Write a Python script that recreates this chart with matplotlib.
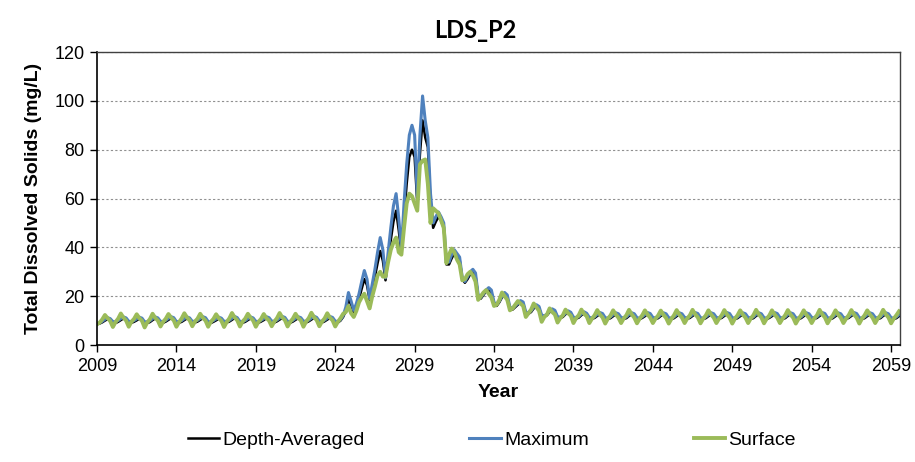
import numpy as np
import matplotlib
matplotlib.use('Agg')
import matplotlib.pyplot as plt
from matplotlib.lines import Line2D

plt.rcParams['font.family'] = ['Liberation Sans', 'DejaVu Sans']

# values, 6 samples per year (every 2 months) from Jan 2009
depth_averaged = [
    8.5, 8.8, 9.3, 10.0, 10.6, 10.3,    # 2009
    9.2, 9.0, 9.5, 10.2, 10.9, 10.5,    # 2010
    9.3, 9.1, 9.5, 10.1, 10.8, 10.4,    # 2011
    9.1, 9.0, 9.4, 10.2, 10.9, 10.5,    # 2012
    9.3, 9.1, 9.6, 10.3, 11.0, 10.6,    # 2013
    9.2, 9.1, 9.5, 10.2, 10.9, 10.5,    # 2014
    9.3, 9.2, 9.6, 10.3, 11.0, 10.6,    # 2015
    9.2, 9.0, 9.5, 10.1, 10.8, 10.4,    # 2016
    9.3, 9.2, 9.6, 10.3, 11.1, 10.6,    # 2017
    9.2, 9.1, 9.5, 10.2, 10.9, 10.5,    # 2018
    9.3, 9.1, 9.6, 10.2, 11.0, 10.6,    # 2019
    9.4, 9.2, 9.7, 10.4, 11.1, 10.7,    # 2020
    9.3, 9.1, 9.6, 10.3, 11.0, 10.6,    # 2021
    9.4, 9.2, 9.7, 10.4, 11.2, 10.7,    # 2022
    9.4, 9.2, 9.7, 10.4, 11.1, 10.7,    # 2023
    9.4, 9.2, 10.0, 11.5, 14.0, 19.0,   # 2024
    16.5, 13.5, 15.5, 19.0, 23.0, 27.0,  # 2025
    24.5, 18.5, 22.5, 28.0, 33.5, 38.5,  # 2026
    34.5, 26.5, 35.0, 43.0, 50.5, 55.0,  # 2027
    47.0, 37.5, 52.0, 66.0, 77.0, 80.0,  # 2028
    77.0, 58.0, 78.0, 92.0, 85.0, 81.0,  # 2029
    58.0, 48.0, 50.5, 52.5, 51.0, 48.0,  # 2030
    33.0, 33.0, 35.5, 37.5, 36.5, 35.0,  # 2031
    27.0, 25.5, 27.0, 29.0, 30.0, 28.5,  # 2032
    20.0, 19.0, 20.5, 22.0, 22.5, 21.5,  # 2033
    17.0, 16.0, 17.5, 19.5, 20.5, 19.5,  # 2034
    15.0, 14.5, 15.5, 16.5, 17.5, 17.0,  # 2035
    13.0, 12.8, 13.5, 15.0, 15.8, 15.2,  # 2036
    11.8, 11.6, 12.2, 13.5, 14.2, 13.6,  # 2037
    11.2, 11.0, 11.5, 12.6, 13.4, 12.9,  # 2038
    11.0, 10.8, 11.2, 12.2, 13.0, 12.5,  # 2039
    10.9, 10.7, 11.1, 11.9, 12.7, 12.3,  # 2040
    10.8, 10.6, 11.0, 11.8, 12.6, 12.2,  # 2041
    10.9, 10.7, 11.0, 11.9, 12.6, 12.2,  # 2042
    10.8, 10.6, 11.1, 11.8, 12.7, 12.3,  # 2043
    10.9, 10.7, 11.0, 11.9, 12.6, 12.2,  # 2044
    10.8, 10.6, 11.0, 11.8, 12.6, 12.2,  # 2045
    10.9, 10.7, 11.1, 11.9, 12.7, 12.3,  # 2046
    10.8, 10.6, 11.0, 11.8, 12.6, 12.2,  # 2047
    10.9, 10.7, 11.1, 11.9, 12.7, 12.3,  # 2048
    10.8, 10.6, 11.0, 11.8, 12.6, 12.2,  # 2049
    10.9, 10.7, 11.0, 11.9, 12.6, 12.2,  # 2050
    10.8, 10.6, 11.1, 11.8, 12.7, 12.3,  # 2051
    10.9, 10.7, 11.0, 11.9, 12.6, 12.2,  # 2052
    10.8, 10.6, 11.0, 11.8, 12.6, 12.2,  # 2053
    10.9, 10.7, 11.1, 11.9, 12.7, 12.3,  # 2054
    10.8, 10.6, 11.0, 11.8, 12.6, 12.2,  # 2055
    10.9, 10.7, 11.1, 11.9, 12.7, 12.3,  # 2056
    10.8, 10.6, 11.0, 11.8, 12.6, 12.2,  # 2057
    10.9, 10.7, 11.0, 11.9, 12.6, 12.2,  # 2058
    10.8, 10.6, 11.0, 11.8,              # 2059
]

maximum = [
    8.6, 9.1, 9.7, 10.5, 11.2, 10.8,    # 2009
    9.6, 9.5, 10.0, 10.8, 11.5, 11.1,   # 2010
    9.7, 9.6, 10.0, 10.7, 11.4, 11.0,   # 2011
    9.5, 9.5, 9.9, 10.8, 11.5, 11.1,    # 2012
    9.7, 9.6, 10.1, 10.9, 11.6, 11.2,   # 2013
    9.6, 9.6, 10.0, 10.8, 11.5, 11.1,   # 2014
    9.7, 9.7, 10.1, 10.9, 11.6, 11.2,   # 2015
    9.6, 9.5, 10.0, 10.7, 11.4, 11.0,   # 2016
    9.7, 9.7, 10.1, 10.9, 11.7, 11.2,   # 2017
    9.6, 9.6, 10.0, 10.8, 11.5, 11.1,   # 2018
    9.7, 9.6, 10.1, 10.8, 11.6, 11.2,   # 2019
    9.8, 9.7, 10.2, 11.0, 11.7, 11.3,   # 2020
    9.7, 9.6, 10.1, 10.9, 11.6, 11.2,   # 2021
    9.8, 9.7, 10.2, 11.0, 11.8, 11.3,   # 2022
    9.8, 9.7, 10.2, 11.0, 11.7, 11.3,   # 2023
    9.8, 9.6, 10.4, 12.0, 15.5, 21.5,   # 2024
    18.0, 14.2, 17.0, 21.0, 26.0, 30.5,  # 2025
    27.0, 19.0, 25.0, 31.0, 38.0, 44.0,  # 2026
    39.0, 27.5, 38.0, 48.0, 57.0, 62.0,  # 2027
    52.0, 39.0, 58.0, 74.0, 86.0, 90.0,  # 2028
    86.0, 61.0, 86.0, 102.0, 92.0, 85.0,  # 2029
    62.0, 50.0, 52.5, 54.5, 52.5, 50.0,  # 2030
    34.0, 34.0, 37.0, 39.0, 37.5, 36.0,  # 2031
    27.5, 26.0, 28.0, 30.0, 31.0, 29.5,  # 2032
    20.5, 19.5, 21.0, 22.5, 23.5, 22.5,  # 2033
    17.5, 16.5, 18.0, 20.0, 21.5, 20.5,  # 2034
    15.5, 15.0, 16.0, 17.0, 18.2, 17.6,  # 2035
    13.5, 13.2, 14.0, 15.5, 16.5, 15.8,  # 2036
    12.2, 12.0, 12.6, 14.0, 14.8, 14.2,  # 2037
    11.6, 11.4, 12.0, 13.0, 14.0, 13.4,  # 2038
    11.4, 11.2, 11.7, 12.7, 13.6, 13.0,  # 2039
    11.3, 11.1, 11.6, 12.5, 13.3, 12.9,  # 2040
    11.2, 11.0, 11.5, 12.4, 13.2, 12.8,  # 2041
    11.3, 11.1, 11.5, 12.5, 13.2, 12.8,  # 2042
    11.2, 11.0, 11.6, 12.4, 13.3, 12.9,  # 2043
    11.3, 11.1, 11.5, 12.5, 13.2, 12.8,  # 2044
    11.2, 11.0, 11.5, 12.4, 13.2, 12.8,  # 2045
    11.3, 11.1, 11.6, 12.5, 13.3, 12.9,  # 2046
    11.2, 11.0, 11.5, 12.4, 13.2, 12.8,  # 2047
    11.3, 11.1, 11.6, 12.5, 13.3, 12.9,  # 2048
    11.2, 11.0, 11.5, 12.4, 13.2, 12.8,  # 2049
    11.3, 11.1, 11.5, 12.5, 13.2, 12.8,  # 2050
    11.2, 11.0, 11.6, 12.4, 13.3, 12.9,  # 2051
    11.3, 11.1, 11.5, 12.5, 13.2, 12.8,  # 2052
    11.2, 11.0, 11.5, 12.4, 13.2, 12.8,  # 2053
    11.3, 11.1, 11.6, 12.5, 13.3, 12.9,  # 2054
    11.2, 11.0, 11.5, 12.4, 13.2, 12.8,  # 2055
    11.3, 11.1, 11.6, 12.5, 13.3, 12.9,  # 2056
    11.2, 11.0, 11.5, 12.4, 13.2, 12.8,  # 2057
    11.3, 11.1, 11.5, 12.5, 13.2, 12.8,  # 2058
    11.2, 11.0, 11.5, 12.4,              # 2059
]

surface = [
    8.5, 9.2, 10.5, 12.3, 11.0, 9.8,    # 2009
    7.4, 9.4, 10.8, 12.9, 11.2, 10.0,   # 2010
    7.5, 9.5, 10.7, 12.6, 11.0, 9.9,    # 2011
    7.2, 9.3, 10.6, 12.8, 11.1, 10.0,   # 2012
    7.6, 9.5, 10.8, 12.7, 11.2, 10.1,   # 2013
    7.5, 9.4, 10.9, 13.0, 11.3, 10.1,   # 2014
    7.7, 9.6, 10.8, 12.8, 11.1, 10.0,   # 2015
    7.5, 9.5, 10.7, 12.6, 11.0, 9.9,    # 2016
    7.4, 9.4, 10.9, 13.1, 11.3, 10.1,   # 2017
    7.6, 9.6, 10.8, 12.8, 11.2, 10.0,   # 2018
    7.5, 9.5, 10.7, 12.7, 11.0, 10.0,   # 2019
    7.7, 9.6, 11.0, 13.1, 11.3, 10.2,   # 2020
    7.6, 9.5, 10.8, 12.8, 11.1, 10.1,   # 2021
    7.5, 9.6, 11.0, 13.2, 11.4, 10.2,   # 2022
    7.7, 9.6, 10.9, 13.0, 11.2, 10.1,   # 2023
    7.6, 9.5, 11.0, 12.8, 13.5, 16.0,   # 2024
    13.0, 11.5, 14.0, 17.5, 19.5, 21.0,  # 2025
    18.0, 15.0, 20.0, 24.0, 28.5, 30.0,  # 2026
    28.0, 28.0, 34.0, 39.0, 42.0, 44.0,  # 2027
    38.0, 37.0, 48.0, 58.0, 62.0, 61.0,  # 2028
    58.0, 55.0, 74.0, 75.5, 76.0, 66.0,  # 2029
    50.0, 56.0, 55.0, 54.0, 51.0, 48.0,  # 2030
    33.5, 37.0, 39.5, 38.0, 35.0, 33.0,  # 2031
    26.5, 27.0, 29.0, 30.0, 28.5, 26.0,  # 2032
    18.5, 20.0, 21.5, 22.5, 21.0, 19.5,  # 2033
    16.0, 16.5, 18.5, 21.5, 20.0, 18.5,  # 2034
    14.2, 15.0, 16.5, 18.0, 17.0, 16.0,  # 2035
    11.5, 13.0, 14.5, 17.0, 15.5, 14.0,  # 2036
    9.5, 11.5, 12.5, 15.0, 13.5, 12.5,   # 2037
    9.2, 11.0, 12.2, 14.5, 13.0, 12.0,   # 2038
    9.0, 11.0, 12.2, 14.5, 12.8, 11.8,   # 2039
    9.0, 10.8, 12.2, 14.3, 12.5, 11.3,   # 2040
    8.8, 10.8, 12.1, 14.2, 12.5, 11.2,   # 2041
    9.0, 10.9, 12.2, 14.4, 12.6, 11.2,   # 2042
    8.9, 10.8, 12.2, 14.2, 12.5, 11.2,   # 2043
    9.0, 10.8, 12.1, 14.1, 12.4, 11.1,   # 2044
    8.8, 10.7, 12.2, 14.3, 12.5, 11.2,   # 2045
    9.0, 10.9, 12.2, 14.4, 12.6, 11.3,   # 2046
    8.9, 10.8, 12.1, 14.2, 12.5, 11.2,   # 2047
    9.0, 10.8, 12.2, 14.3, 12.5, 11.2,   # 2048
    8.8, 10.8, 12.2, 14.2, 12.5, 11.2,   # 2049
    9.0, 10.9, 12.2, 14.4, 12.6, 11.3,   # 2050
    8.9, 10.8, 12.1, 14.2, 12.5, 11.2,   # 2051
    9.0, 10.8, 12.2, 14.3, 12.5, 11.2,   # 2052
    8.8, 10.7, 12.2, 14.2, 12.4, 11.1,   # 2053
    9.0, 10.9, 12.2, 14.4, 12.6, 11.3,   # 2054
    8.9, 10.8, 12.1, 14.2, 12.5, 11.2,   # 2055
    9.0, 10.8, 12.2, 14.3, 12.5, 11.2,   # 2056
    8.8, 10.8, 12.2, 14.2, 12.5, 11.2,   # 2057
    9.0, 10.9, 12.2, 14.4, 12.6, 11.3,   # 2058
    8.9, 10.8, 12.2, 13.8,               # 2059
]

series_names = ['Depth-Averaged', 'Maximum', 'Surface']
series_colors = ['#000000', '#4F81BD', '#9BBB59']
series_widths = [1.8, 2.2, 2.8]
year_ticks = list(range(2009, 2060, 5))
y_ticks = [0, 20, 40, 60, 80, 100, 120]

# sample times in decimal years (every 2 months)
t = 2009 + np.arange(len(surface)) / 6.0

fig = plt.figure(figsize=(9.15, 4.62), dpi=100)
ax = fig.add_axes([0.106, 0.2532, 0.8774, 0.6342])

for vals, name, col, lw in zip([depth_averaged, maximum, surface], series_names, series_colors, series_widths):
    ax.plot(t, vals, color=col, lw=lw, label=name, solid_joinstyle='round')

ax.set_xlim(2009, 2059.55)
ax.set_ylim(0, 120)
ax.set_xticks(year_ticks)
ax.set_yticks(y_ticks)
ax.tick_params(direction='out', length=5, width=1, labelsize=13, pad=4)
ax.yaxis.grid(True, linestyle=(0, (2, 2)), color='#909090', lw=0.8)
ax.set_axisbelow(True)

for s in ['left', 'bottom']:
    ax.spines[s].set_color('black')
    ax.spines[s].set_linewidth(1.2)
for s in ['top', 'right']:
    ax.spines[s].set_color('#404040')
    ax.spines[s].set_linewidth(1.0)

ax.set_xlabel('Year', fontsize=14, fontweight='bold', labelpad=7)
ax.set_ylabel('Total Dissolved Solids (mg/L)', fontsize=14, fontweight='bold', labelpad=9)
fig.text(0.52, 0.935, 'LDS_P2', fontsize=17, fontweight='bold', family=['Lato', 'DejaVu Sans'],
         ha='center', va='center')

# legend entries spread like the original, one box each
legend_x = [0.205, 0.513, 0.758]
for name, col, lw, x in zip(series_names, series_colors, series_widths, legend_x):
    h = Line2D([], [], color=col, lw=lw)
    fig.legend([h], [name], loc='center left', bbox_to_anchor=(x, 0.048), frameon=False,
               fontsize=14, handlelength=1.6, handletextpad=0.2, borderaxespad=0, borderpad=0)

fig.savefig('out.png', dpi=100)
